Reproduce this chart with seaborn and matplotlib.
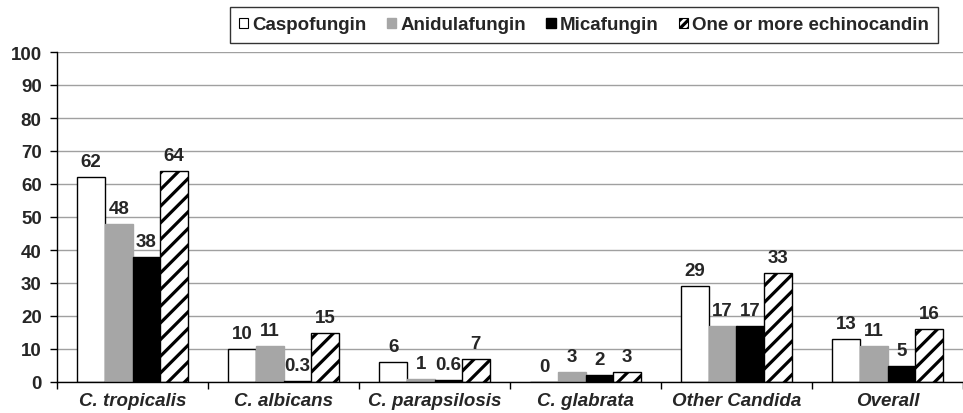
import pandas as pd
import matplotlib
matplotlib.use('Agg')
import matplotlib.pyplot as plt
import seaborn as sns
import numpy as np

#%% Data

species = ['C. tropicalis', 'C. albicans', 'C. parapsilosis', 'C. glabrata', 'Other Candida', 'Overall']
drugs = ['Caspofungin', 'Anidulafungin', 'Micafungin', 'One or more echinocandin']
caspofungin = [62, 10, 6, 0, 29, 13]
anidulafungin = [48, 11, 1, 3, 17, 11]
micafungin = [38, 0.3, 0.6, 2, 17, 5]
any_echino = [64, 15, 7, 3, 33, 16]
yticks = list(range(0, 101, 10))

df = pd.DataFrame({
    'species': species * 4,
    'drug': np.repeat(drugs, len(species)),
    'pct': caspofungin + anidulafungin + micafungin + any_echino,
})

#%% Style

sns.set_style('white')
plt.rcParams['font.family'] = ['Liberation Sans', 'DejaVu Sans']
plt.rcParams['font.weight'] = 'bold'
plt.rcParams['hatch.linewidth'] = 2.3

palette = ['white', '#a6a6a6', 'black', 'white']
fs = 13.5

#%% Plot

fig = plt.figure(figsize=(9.63, 4.14), dpi=100)
ax = fig.add_axes([57 / 963, 31 / 414, 1 - 57 / 963, 330 / 414])

sns.barplot(data=df, x='species', y='pct', hue='drug', palette=palette,
            edgecolor='black', linewidth=1.0, width=0.73, ax=ax,
            legend=False, saturation=1)

ax.set_axisbelow(True)
ax.yaxis.grid(True, color='#a0a0a0', linewidth=1.0)

for i, cont in enumerate(ax.containers):
    for bar in cont:
        if i == 3:
            bar.set_hatch('//')
        if i == 1 or i == 2:
            bar.set_edgecolor(palette[i])
    labels = [('%g' % v) for v in cont.datavalues]
    ax.bar_label(cont, labels=labels, padding=5, fontsize=fs, fontweight='bold')

ax.set_ylim(0, 100)
ax.set_yticks(yticks)
ax.set_xlim(-0.5, -0.5 + 906 / 152.2)
ax.set_xlabel('')
ax.set_ylabel('')

ax.set_xticks(range(len(species)))
ax.set_xticklabels(species, fontstyle='italic', fontweight='bold', fontsize=fs)
ax.set_xticks(np.arange(-0.5, len(species), 1.0), minor=True)
ax.tick_params(axis='x', which='major', length=0, pad=7)
ax.tick_params(axis='x', which='minor', length=5, width=1, color='black', direction='out', bottom=True)
ax.tick_params(axis='y', length=5, width=1, color='black', direction='out', left=True, labelsize=fs, pad=6)
for lab in ax.get_yticklabels():
    lab.set_fontweight('bold')

for s in ['top', 'right']:
    ax.spines[s].set_visible(False)
for s in ['left', 'bottom']:
    ax.spines[s].set_color('black')
    ax.spines[s].set_linewidth(1.0)

#%% Legend

handles = [plt.Rectangle((0, 0), 1, 1, facecolor=palette[0], edgecolor='black', linewidth=0.8),
           plt.Rectangle((0, 0), 1, 1, facecolor=palette[1], edgecolor=palette[1]),
           plt.Rectangle((0, 0), 1, 1, facecolor=palette[2], edgecolor='black'),
           plt.Rectangle((0, 0), 1, 1, facecolor='white', edgecolor='black', hatch='////', linewidth=0.8)]
leg = fig.legend(handles, drugs, ncol=4, loc='center', bbox_to_anchor=(584 / 963, 1 - 26 / 414),
                 frameon=True, fancybox=False, edgecolor='black', handlelength=0.5, handleheight=0.5,
                 handletextpad=0.2, columnspacing=1.1, fontsize=fs, borderpad=0.5, borderaxespad=0)
leg.get_frame().set_linewidth(1.0)
for t in leg.get_texts():
    t.set_fontweight('bold')

fig.savefig('out.png', dpi=100)
